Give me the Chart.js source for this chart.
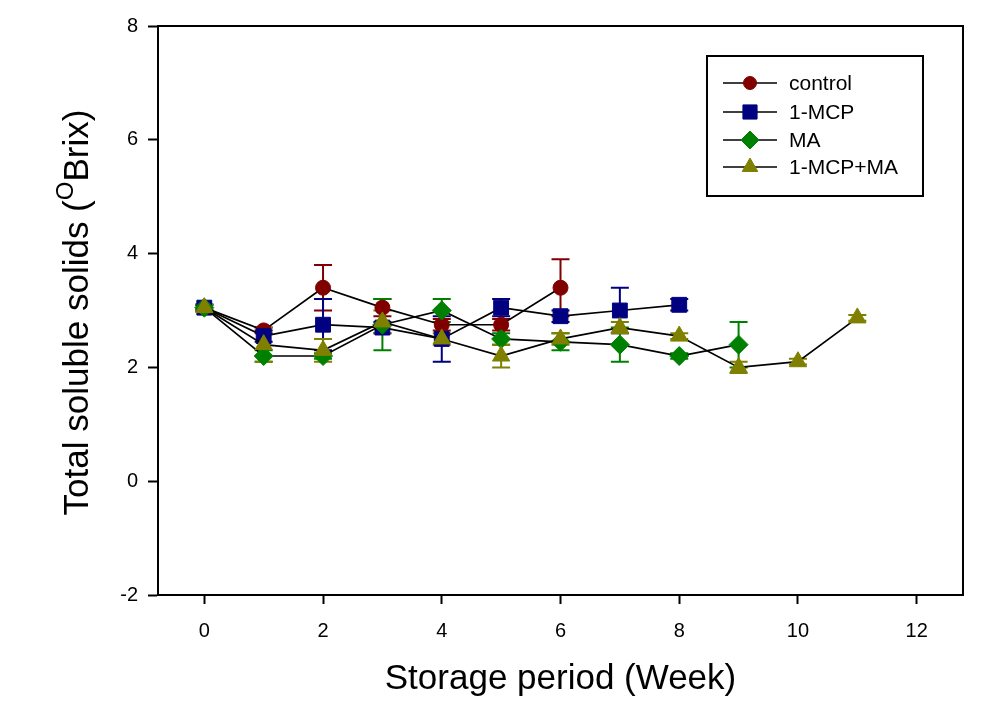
<!DOCTYPE html>
<html>
<head>
<meta charset="utf-8">
<script src="https://cdn.jsdelivr.net/npm/chart.js@4"></script>
<style>
body { margin: 0; background: #fff; }
canvas { display: block; }
</style>
</head>
<body>
<canvas id="c" width="992" height="707"></canvas>
<script>
var weeks = [0, 1, 2, 3, 4, 5, 6, 7, 8, 9, 10, 11];
var xTicks = [0, 2, 4, 6, 8, 10, 12];
var yTicks = [-2, 0, 2, 4, 6, 8];

var names = ['control', '1-MCP', 'MA', '1-MCP+MA'];
var control = [3.05, 2.65, 3.4, 3.05, 2.75, 2.75, 3.4];
var mcp = [3.05, 2.55, 2.75, 2.7, 2.5, 3.05, 2.9, 3.0, 3.1];
var ma = [3.05, 2.2, 2.2, 2.75, 3.0, 2.5, 2.45, 2.4, 2.2, 2.4];
var mcpMa = [3.05, 2.4, 2.3, 2.8, 2.5, 2.2, 2.5, 2.7, 2.55, 2.0, 2.1, 2.87];

var controlErr = [0.05, 0.05, 0.4, 0.15, 0.1, 0.1, 0.5];
var mcpErr = [0.05, 0.1, 0.45, 0.1, 0.4, 0.15, 0.1, 0.4, 0.1];
var maErr = [0.05, 0.1, 0.05, 0.45, 0.2, 0.1, 0.15, 0.3, 0.05, 0.4];
var mcpMaErr = [0.05, 0.3, 0.2, 0.2, 0.1, 0.2, 0.1, 0.1, 0.05, 0.1, 0.05, 0.05];

var colors = ['#800000', '#000080', '#008000', '#808000'];
var shapes = ['circle', 'rect', 'rectRot', 'triangle'];
var radii = [7.5, 10.5, 9.5, 10];
var values = [control, mcp, ma, mcpMa];
var errs = [controlErr, mcpErr, maErr, mcpMaErr];

function pts(v) {
  return v.map(function (y, i) { return { x: weeks[i], y: y }; });
}

var datasets = names.map(function (n, i) {
  return {
    label: n,
    data: pts(values[i]),
    borderColor: '#000',
    borderWidth: 1.7,
    pointStyle: shapes[i],
    pointRadius: radii[i],
    pointBackgroundColor: colors[i],
    pointBorderColor: colors[i],
    pointBorderWidth: 1,
    order: 3 - i,
    errors: errs[i]
  };
});

var FONT = '"Liberation Sans", Arial, sans-serif';

// error bars, frame, titles and legend box
var extras = {
  id: 'extras',
  beforeDatasetsDraw: function (chart) {
    var ctx = chart.ctx, xs = chart.scales.x, ys = chart.scales.y;
    ctx.save();
    ctx.lineWidth = 2;
    chart.data.datasets.forEach(function (ds, i) {
      ctx.strokeStyle = colors[i];
      ds.data.forEach(function (p, j) {
        var e = ds.errors[j];
        var px = xs.getPixelForValue(p.x);
        var top = ys.getPixelForValue(p.y + e);
        var bot = ys.getPixelForValue(p.y - e);
        ctx.beginPath();
        ctx.moveTo(px, top); ctx.lineTo(px, bot);
        ctx.moveTo(px - 9, top); ctx.lineTo(px + 9, top);
        ctx.moveTo(px - 9, bot); ctx.lineTo(px + 9, bot);
        ctx.stroke();
      });
    });
    ctx.restore();
  },
  afterDraw: function (chart) {
    var ctx = chart.ctx, a = chart.chartArea;
    ctx.save();
    ctx.strokeStyle = '#000';
    ctx.lineWidth = 2;
    ctx.strokeRect(a.left, a.top, a.right - a.left, a.bottom - a.top);

    // x title
    ctx.fillStyle = '#000';
    ctx.font = '35px ' + FONT;
    ctx.textAlign = 'center';
    ctx.textBaseline = 'alphabetic';
    ctx.fillText('Storage period (Week)', (a.left + a.right) / 2, 689);

    // y title with superscript
    var p1 = 'Total soluble solids (', sup = 'O', p2 = 'Brix)';
    ctx.font = '35px ' + FONT;
    var w1 = ctx.measureText(p1).width, w3 = ctx.measureText(p2).width;
    ctx.font = '24px ' + FONT;
    var w2 = ctx.measureText(sup).width;
    var total = w1 + w2 + w3;
    ctx.translate(88, (a.top + a.bottom) / 2 + 2);
    ctx.rotate(-Math.PI / 2);
    ctx.textAlign = 'left';
    var x0 = -total / 2;
    ctx.font = '35px ' + FONT;
    ctx.fillText(p1, x0, 0);
    ctx.font = '24px ' + FONT;
    ctx.fillText(sup, x0 + w1, -15);
    ctx.font = '35px ' + FONT;
    ctx.fillText(p2, x0 + w1 + w2, 0);
    ctx.restore();

    // legend
    ctx.save();
    ctx.strokeStyle = '#000';
    ctx.lineWidth = 2;
    ctx.strokeRect(707, 56, 216, 140);
    var rows = [83, 112, 140, 167];
    var lr = [6.5, 10, 9, 9];
    ctx.font = '21px ' + FONT;
    ctx.textBaseline = 'middle';
    names.forEach(function (n, i) {
      var y = rows[i];
      ctx.strokeStyle = '#000';
      ctx.lineWidth = 1.7;
      ctx.beginPath();
      ctx.moveTo(723, y); ctx.lineTo(777, y);
      ctx.stroke();
      ctx.fillStyle = colors[i];
      ctx.strokeStyle = colors[i];
      ctx.lineWidth = 1;
      Chart.helpers.drawPoint(ctx, { pointStyle: shapes[i], radius: lr[i], rotation: 0, borderWidth: 1 }, 750, y);
      ctx.fillStyle = '#000';
      ctx.fillText(n, 789, y + 1);
    });
    ctx.restore();
  }
};

new Chart(document.getElementById('c'), {
  type: 'line',
  data: { datasets: datasets },
  options: {
    responsive: false,
    devicePixelRatio: 1,
    animation: false,
    layout: { padding: { left: 0, top: 26, right: 29, bottom: 0 } },
    plugins: { legend: { display: false }, tooltip: { enabled: false } },
    scales: {
      x: {
        type: 'linear',
        min: -0.78,
        max: 12.78,
        afterBuildTicks: function (s) { s.ticks = xTicks.map(function (v) { return { value: v }; }); },
        afterFit: function (s) { s.height = 112; },
        grid: { drawOnChartArea: false, tickLength: 9, tickWidth: 2, tickColor: '#000' },
        border: { color: '#000', width: 2 },
        ticks: { color: '#000', padding: 15, maxRotation: 0, font: { size: 20, family: FONT } }
      },
      y: {
        type: 'linear',
        min: -2,
        max: 8,
        afterBuildTicks: function (s) { s.ticks = yTicks.map(function (v) { return { value: v }; }); },
        afterFit: function (s) { s.width = 158; },
        grid: { drawOnChartArea: false, tickLength: 10, tickWidth: 2, tickColor: '#000' },
        border: { color: '#000', width: 2 },
        ticks: { color: '#000', padding: 10, font: { size: 20, family: FONT } }
      }
    }
  },
  plugins: [extras]
});
</script>
</body>
</html>
